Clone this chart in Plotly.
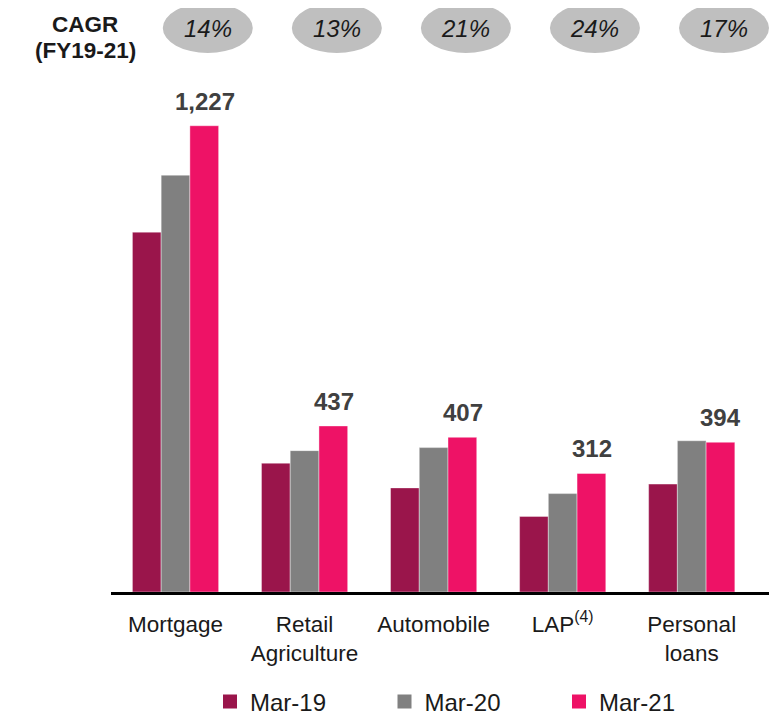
import plotly.graph_objects as go

categories = ["Mortgage", "Retail<br>Agriculture", "Automobile", "LAP<sup>(4)</sup>", "Personal<br>loans"]
mar19 = [947, 339, 274, 199, 284]
mar20 = [1097, 372, 380, 259, 398]
mar21 = [1227, 437, 407, 312, 394]
mar21_labels = ["1,227", "437", "407", "312", "394"]
cagr = ["14%", "13%", "21%", "24%", "17%"]
series_names = ["Mar-19", "Mar-20", "Mar-21"]
colors = ["#9A154B", "#808080", "#EE1266"]

FONT = "Liberation Sans, Arial, sans-serif"

# page body has an 8px margin, so the figure is sized to fit the window
OFF = 8
W, H = 784 - OFF, 716 - OFF
L, R, T, B = 111 - OFF, 15, 80 - OFF, 124
PW, PH = W - L - R, H - T - B


def py(ref_y):
    """paper y for a reference-pixel y"""
    return 1 + (T - (ref_y - OFF)) / PH


def px(ref_x):
    return ((ref_x - OFF) - L) / PW


fig = go.Figure()
for name, vals, col in zip(series_names, [mar19, mar20, mar21], colors):
    fig.add_trace(go.Bar(
        name=name, x=categories, y=vals, showlegend=False,
        marker=dict(color=col, line=dict(color="rgba(255,255,255,0.5)", width=0.8)),
        hoverinfo="skip",
    ))
for name, col in zip(series_names, colors):
    fig.add_trace(go.Scatter(
        name=name, x=[None], y=[None], mode="markers",
        marker=dict(symbol="square", size=14, color=col),
        showlegend=True, hoverinfo="skip",
    ))

annotations = []
shapes = []
ell_y = py(28)
for i, (cat, v, lab, g) in enumerate(zip(categories, mar21, mar21_labels, cagr)):
    annotations.append(dict(
        x=cat, y=v, xref="x", yref="y", text="<b>%s</b>" % lab, showarrow=False,
        xshift=29, yshift=9, yanchor="bottom",
        font=dict(family=FONT, size=24, color="#404040"),
    ))
    shapes.append(dict(
        type="circle", xref="x", yref="paper",
        xsizemode="pixel", ysizemode="pixel",
        xanchor=i + 0.25, yanchor=ell_y,
        x0=-45, x1=45, y0=-25, y1=25,
        fillcolor="#BFBFBF", line=dict(width=0), layer="above",
    ))
    annotations.append(dict(
        x=i + 0.25, y=ell_y, xref="x", yref="paper",
        text="<i>%s</i>" % g, showarrow=False, yanchor="middle", xanchor="center",
        font=dict(family=FONT, size=24, color="#1A1A1A"),
    ))

for txt, yc in [("CAGR", 24), ("(FY19-21)", 50)]:
    annotations.append(dict(
        x=px(85), y=py(yc), xref="paper", yref="paper",
        text="<b>%s</b>" % txt, showarrow=False, xanchor="center", yanchor="middle",
        font=dict(family=FONT, size=22.5, color="#1A1A1A"),
    ))

fig.update_layout(
    width=W, height=H,
    margin=dict(l=L, r=R, t=T, b=B, autoexpand=False),
    paper_bgcolor="white", plot_bgcolor="white",
    barmode="group", bargap=0.332, bargroupgap=0,
    font=dict(family=FONT, color="#1A1A1A"),
    showlegend=True,
    legend=dict(
        orientation="h", x=px(210), xanchor="left",
        y=py(702), yanchor="middle",
        font=dict(family=FONT, size=24, color="#1A1A1A"),
        entrywidth=129.5, entrywidthmode="pixels", itemclick=False,
        bgcolor="rgba(0,0,0,0)",
    ),
    annotations=annotations,
    shapes=shapes,
)
fig.update_xaxes(
    showline=True, linecolor="black", linewidth=2.5, showgrid=False, ticks="",
    tickfont=dict(family=FONT, size=22.5, color="#1A1A1A"),
    ticklabelstandoff=10, automargin=False,
)
fig.update_yaxes(range=[0, PH / 0.38], visible=False, showgrid=False, zeroline=False,
                 automargin=False)

fig.write_html("out.html")
